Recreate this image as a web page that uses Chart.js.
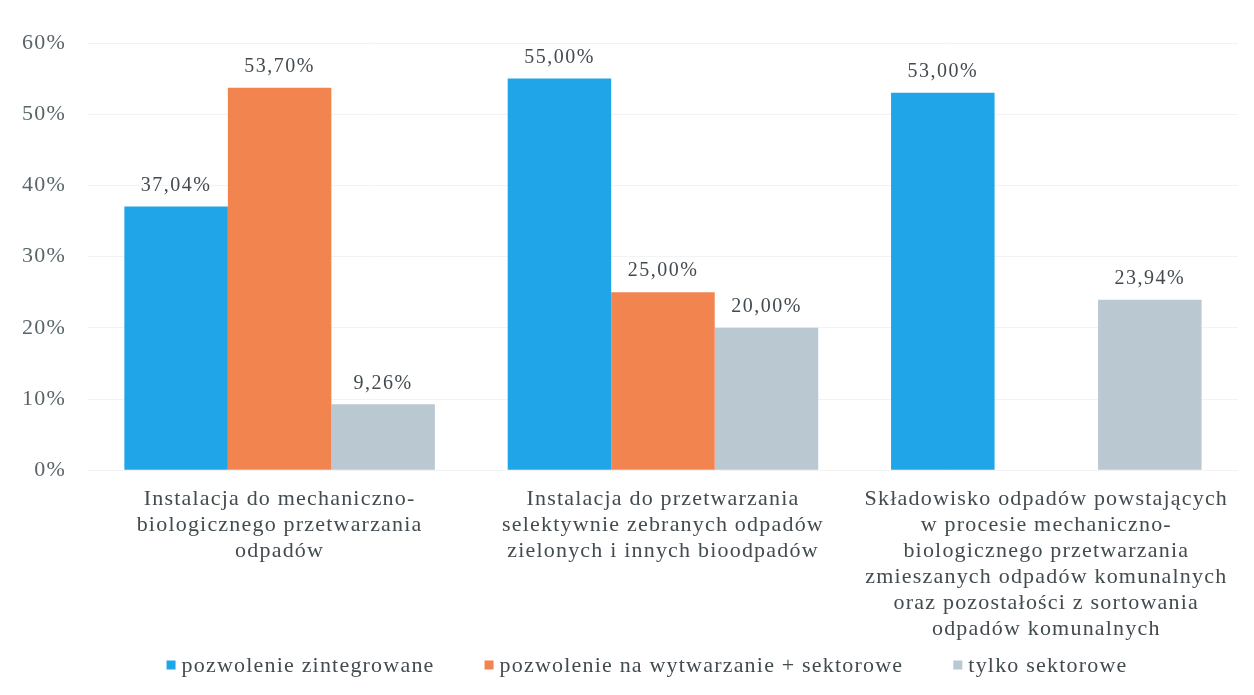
<!DOCTYPE html>
<html>
<head>
<meta charset="utf-8">
<script src="https://cdn.jsdelivr.net/npm/chart.js@4"></script>
<style>
  html, body { margin: 0; padding: 0; background: #fff; }
  #wrap { width: 1254px; height: 695px; }
</style>
</head>
<body>
<div id="wrap"><canvas id="chart"></canvas></div>
<script>
/* ------------------ DATA ------------------ */
const categories = [
    ["Instalacja do mechaniczno-", "biologicznego przetwarzania", "odpadów"],
    ["Instalacja do przetwarzania", "selektywnie zebranych odpadów", "zielonych i innych bioodpadów"],
    ["Składowisko odpadów powstających", "w procesie mechaniczno-", "biologicznego przetwarzania", "zmieszanych odpadów komunalnych", "oraz pozostałości z sortowania", "odpadów komunalnych"]
];
const seriesNames = ["pozwolenie zintegrowane", "pozwolenie na wytwarzanie + sektorowe", "tylko sektorowe"];
const zintegrowane = [37.04, 55.00, 53.00];
const wytwarzanieSektorowe = [53.70, 25.00, null];
const tylkoSektorowe = [9.26, 20.00, 23.94];
const yTicks = [0, 10, 20, 30, 40, 50, 60];

const colors = ["#20a6e8", "#f1844f", "#bac8d1"];
const textColor = "#424b4f";
const fontFamily = "'Liberation Serif', 'Times New Roman', serif";
const spacing = "1.2px";

/* ------------------ WIDER SCANNED-LOOKING TEXT ------------------ */
const letterSpacing = {
    id: "letterSpacing",
    beforeUpdate(chart) { chart.ctx.letterSpacing = spacing; },
    beforeLayout(chart) { chart.ctx.letterSpacing = spacing; },
    beforeDraw(chart) { chart.ctx.letterSpacing = spacing; }
};

/* ------------------ VALUE LABELS ------------------ */
const valueLabels = {
    id: "valueLabels",
    afterDatasetsDraw(chart) {
        const ctx = chart.ctx;
        ctx.save();
        ctx.letterSpacing = "1.5px";
        ctx.font = "20px " + fontFamily;
        ctx.fillStyle = textColor;
        ctx.textAlign = "center";
        ctx.textBaseline = "bottom";
        chart.data.datasets.forEach((ds, i) => {
            chart.getDatasetMeta(i).data.forEach((bar, j) => {
                const v = ds.data[j];
                if (v === null || v === undefined) return;
                ctx.fillText(v.toFixed(2).replace(".", ",") + "%", bar.x, bar.y - 11);
            });
        });
        ctx.restore();
    }
};

/* ------------------ BOTTOM LEGEND (wide gaps, tight height) ------------------ */
const bottomLegend = {
    id: "bottomLegend",
    afterDraw(chart) {
        const ctx = chart.ctx;
        ctx.save();
        ctx.letterSpacing = spacing;
        ctx.font = "22px " + fontFamily;
        ctx.textBaseline = "middle";
        ctx.textAlign = "left";
        const box = 9, boxGap = 6, itemGap = 50;
        const widths = chart.data.datasets.map(ds => box + boxGap + ctx.measureText(ds.label).width);
        const total = widths.reduce((a, b) => a + b, 0) + itemGap * (widths.length - 1);
        let x = (chart.width - total) / 2 + 20;
        const y = chart.height - 30;
        chart.data.datasets.forEach((ds, i) => {
            ctx.fillStyle = ds.backgroundColor;
            ctx.fillRect(x, y - box / 2, box, box);
            ctx.fillStyle = textColor;
            ctx.fillText(ds.label, x + box + boxGap, y + 1);
            x += widths[i] + itemGap;
        });
        ctx.restore();
    }
};

Chart.defaults.font.family = fontFamily;
Chart.defaults.color = textColor;

new Chart(document.getElementById("chart"), {
    type: "bar",
    data: {
        labels: categories,
        datasets: [
            { label: seriesNames[0], data: zintegrowane, backgroundColor: colors[0] },
            { label: seriesNames[1], data: wytwarzanieSektorowe, backgroundColor: colors[1] },
            { label: seriesNames[2], data: tylkoSektorowe, backgroundColor: colors[2] }
        ]
    },
    options: {
        responsive: true,
        maintainAspectRatio: false,
        animation: false,
        layout: { padding: { top: 43, right: 16, left: 0, bottom: 45 } },
        datasets: { bar: { categoryPercentage: 0.81, barPercentage: 1.0 } },
        plugins: {
            tooltip: { enabled: false },
            legend: { display: false }
        },
        scales: {
            x: {
                grid: { display: false },
                border: { display: false },
                ticks: {
                    font: { size: 22, lineHeight: 1.18 },
                    color: textColor,
                    maxRotation: 0,
                    autoSkip: false,
                    padding: 8
                }
            },
            y: {
                min: yTicks[0],
                max: yTicks[yTicks.length - 1],
                afterBuildTicks: axis => { axis.ticks = yTicks.map(v => ({ value: v })); },
                grid: { color: "#f3f3f3", drawTicks: false },
                border: { display: false },
                ticks: {
                    font: { size: 22 },
                    color: "#5a6569",
                    padding: 22,
                    callback: v => v + "%"
                }
            }
        }
    },
    plugins: [letterSpacing, valueLabels, bottomLegend]
});
</script>
</body>
</html>
